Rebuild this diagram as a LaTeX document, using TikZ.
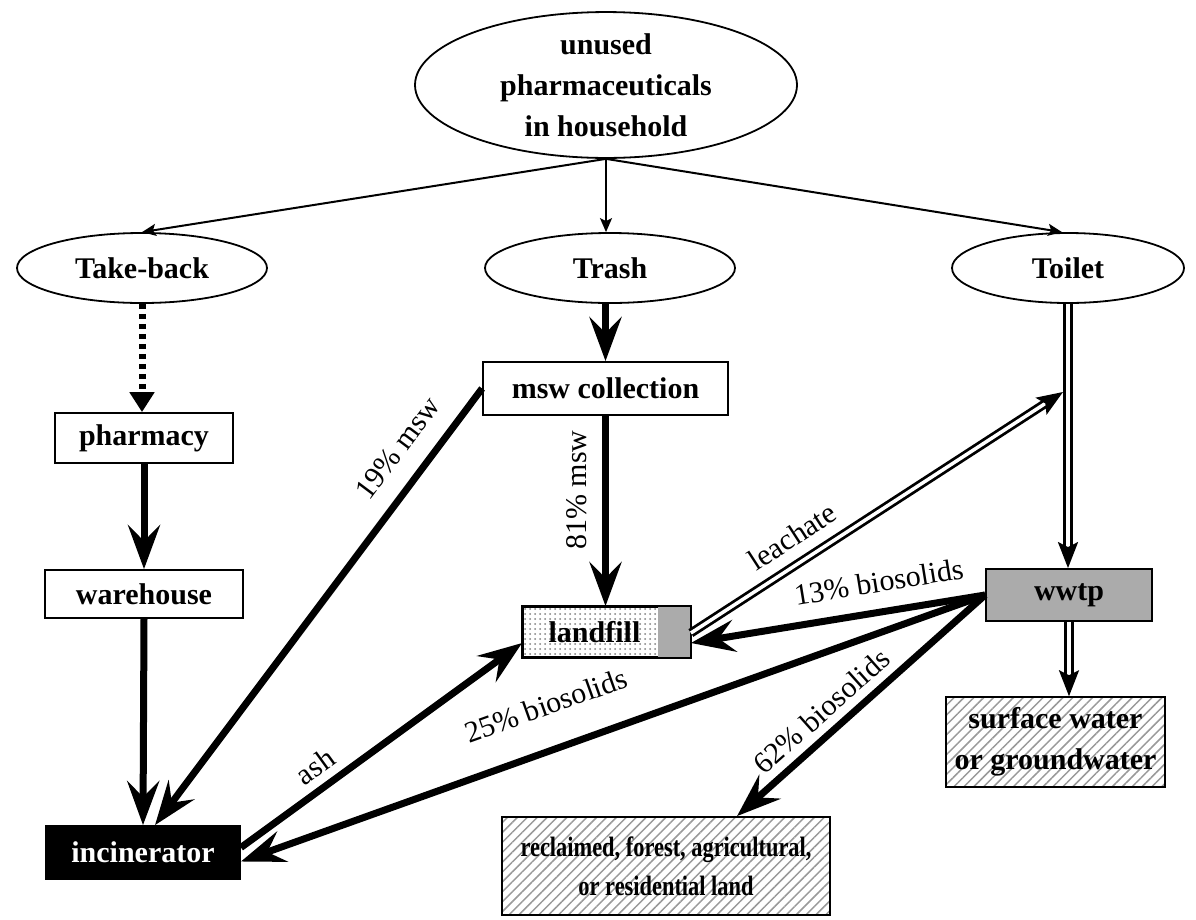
\documentclass[tikz,border=0pt]{standalone}
\usepackage{fontspec}
\usepackage{graphicx}
\setmainfont{Liberation Serif}
\usetikzlibrary{arrows.meta,shapes.geometric,patterns.meta,calc}
\definecolor{boxgray}{gray}{0.67}
\definecolor{hatchgray}{gray}{0.6}
\definecolor{dotgray}{gray}{0.5}
\begin{document}
\begin{tikzpicture}[x=1pt,y=-1pt,
  every node/.style={font=\fontsize{30}{41}\selectfont\bfseries},
  oval/.style={draw, line width=1.8pt, ellipse, inner sep=0pt},
  box/.style={draw, line width=1.8pt, rectangle, inner sep=0pt},
  hatch/.style={pattern={Lines[angle=45,distance=7pt,line width=1.5pt]}, pattern color=hatchgray},
  thinarrow/.style={line width=2pt, -{Stealth[length=14pt,width=12pt,inset=3pt]}},
  heavy/.style={line width=7pt, -{Stealth[length=44pt,width=32pt,inset=16pt]}},
  dottedarrow/.style={line width=7pt, dash pattern=on 5pt off 5pt, -{Triangle[length=20pt,width=24pt]}},
  piped/.style={double, line width=2.8pt, double distance=3.5pt, -{Stealth[length=26pt,width=20pt,inset=5pt]}},
  lbl/.style={font=\fontsize{30}{36}\selectfont, sloped, inner sep=2pt}
]
\useasboundingbox (0,0) rectangle (1196,919);

% nodes
\node[oval, minimum width=382, minimum height=134, align=center] (top) at (606,85) {unused\\pharmaceuticals\\in household};
\node[oval, minimum width=250, minimum height=70] (takeback) at (142,268) {Take-back};
\node[oval, minimum width=250, minimum height=70] (trash) at (610,268) {Trash};
\node[oval, minimum width=232, minimum height=70] (toilet) at (1068,268) {Toilet};

\node[box, minimum width=245, minimum height=53] (msw) at (605.5,388.5) {msw collection};
\node[box, minimum width=178, minimum height=50] (pharmacy) at (144,438) {pharmacy};
\node[box, minimum width=198, minimum height=48] (warehouse) at (144,594) {warehouse};
\node[box, fill=black, text=white, minimum width=194, minimum height=53] (incinerator) at (143,852.5) {incinerator};

\node[box, pattern={Dots[radius=1pt,distance=5pt]}, pattern color=dotgray, minimum width=167, minimum height=50] (landfill) at (606.5,632) {};
\fill[boxgray] ($(landfill.north east)+(-33,0)$) rectangle (landfill.south east);
\draw[line width=1.8pt] (landfill.north west) rectangle (landfill.south east);
\node (landfilltext) at ($(landfill.center)+(-12,0)$) {landfill};

\node[box, fill=boxgray, minimum width=166, minimum height=52] (wwtp) at (1069,595) {wwtp};
\node[box, hatch, minimum width=219, minimum height=90, align=center] (surface) at (1055.5,742) {surface water\\or groundwater};
\node[box, hatch, minimum width=328, minimum height=98, align=center, font=\fontsize{28}{39}\selectfont\bfseries] (reclaimed) at (666,866) {\scalebox{0.8}[1]{reclaimed, forest, agricultural,}\\\scalebox{0.8}[1]{or residential land}};

% connection points
\coordinate (inc19) at ($(incinerator.north)+(12,0)$);
\coordinate (incash) at ($(incinerator.east)+(0,-5)$);
\coordinate (inc25) at ($(incinerator.east)+(0,9)$);
\coordinate (lfW) at ($(landfill.west)+(0,11)$);
\coordinate (lfE1) at ($(landfill.east)+(0,1)$);
\coordinate (lfE2) at ($(landfill.east)+(0,11)$);
\coordinate (reclN) at ($(reclaimed.north)+(71,0)$);
\coordinate (leachend) at (1063,392);

% connectors
\draw[thinarrow] (top.south) -- (takeback.north);
\draw[thinarrow] (top.south) -- (trash.north -| top.south);
\draw[thinarrow] (top.south) -- ($(toilet.north)+(-6,0)$);
\draw[dottedarrow] (takeback.south) -- (takeback.south |- pharmacy.north);
\draw[heavy] (trash.south -| msw.north) -- (msw.north);
\draw[heavy] (pharmacy.south) -- (warehouse.north);
\draw[heavy] (warehouse.south) -- (incinerator.north);
\draw[heavy] (msw.south) -- (msw.south |- landfill.north);
\node[font=\fontsize{30}{36}\selectfont, rotate=90] (l81) at (577,490) {81\% msw};
\draw[heavy] (msw.west) -- node[lbl, pos=0.18, above=16pt] (l19) {19\% msw} (inc19);
\draw[heavy] (incash) -- node[lbl, pos=0.31, above=6pt] (lash) {ash} (lfW);
\draw[piped] (toilet.south) -- (toilet.south |- wwtp.north);
\draw[piped] (wwtp.south) -- (wwtp.south |- surface.north);
\draw[piped] (lfE1) -- node[lbl, pos=0.31, above=12pt] (lleach) {leachate} (leachend);
\draw[heavy] (wwtp.west) -- node[lbl, pos=0.345, above=14pt] (l13) {13\% biosolids} (lfE2);
\draw[heavy] (wwtp.west) -- node[lbl, pos=0.57, above=28pt] (l25) {25\% biosolids} (inc25);
\draw[heavy] (wwtp.west) -- node[lbl, pos=0.6, above=6pt] (l62) {62\% biosolids} (reclN);
\end{tikzpicture}
\end{document}
